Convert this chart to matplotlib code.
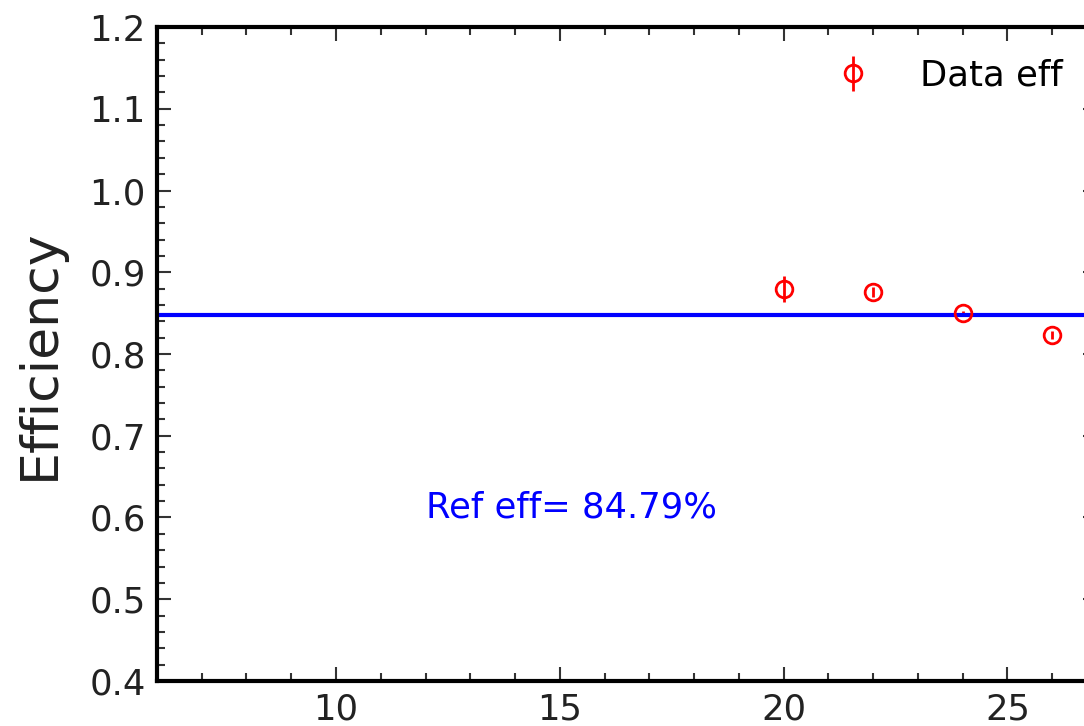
import numpy as np
import matplotlib
matplotlib.use("Agg")
from matplotlib import pyplot as plt
from matplotlib.ticker import MultipleLocator

# efficiency points vs x
x_vals = [20, 22, 24, 26]
eff_vals = [0.880, 0.876, 0.850, 0.823]
eff_errs = [0.016, 0.006, 0.003, 0.005]
ref_eff = 0.8479

fig = plt.figure(figsize=(10.84, 7.26), dpi=100)
ax = fig.add_axes([0.1448, 0.062, 0.8672, 0.9008])

ax.errorbar(x_vals, eff_vals, yerr=eff_errs, fmt='o', color='red', mfc='none',
            ms=12, mew=2, elinewidth=2, capsize=0, label='Data eff')
ax.axhline(ref_eff, color='blue', lw=3)
ax.text(12, 0.6, f"Ref eff= {ref_eff*100:.2f}%", color='blue', fontsize=25.5)

ax.set_xlim(6, 27)
ax.set_ylim(0.4, 1.2)
ax.xaxis.set_major_locator(MultipleLocator(5))
ax.xaxis.set_minor_locator(MultipleLocator(1))
ax.yaxis.set_major_locator(MultipleLocator(0.1))
ax.yaxis.set_minor_locator(MultipleLocator(0.02))
ax.tick_params(which='both', direction='in', top=True, right=True,
               labelsize=25.5, labelcolor='#222222', color='#333333', width=1.5)
ax.tick_params(which='major', length=10, pad=8)
ax.tick_params(which='minor', length=6)
for s in ax.spines.values():
    s.set_linewidth(3)

ax.set_ylabel("Efficiency", fontsize=37.5, color='#222222', labelpad=18)
ax.legend(loc='upper right', frameon=False, fontsize=25.5, handletextpad=0.9,
          bbox_to_anchor=(0.9975, 1.0))

fig.savefig("out.png", dpi=100)
